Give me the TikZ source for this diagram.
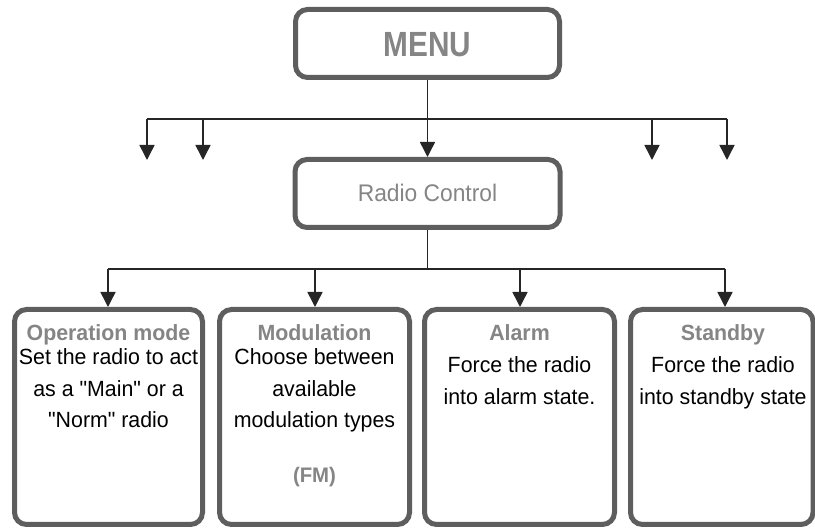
\documentclass[tikz,border=0pt]{standalone}
\usepackage{fontspec}
\setmainfont{Liberation Sans}
% families declared with \newfontfamily keep straight quotes (no TeX mapping)
\newfontfamily\bodyfont[FakeStretch=0.97]{Liberation Sans}
\newfontfamily\radiofont[FakeStretch=0.95]{Liberation Sans}
\newfontfamily\menufont[FakeStretch=0.85]{Liberation Sans}
\usetikzlibrary{arrows.meta}
\definecolor{boxline}{HTML}{5E5E5E}
\definecolor{titlegray}{HTML}{858585}
\definecolor{wire}{HTML}{262626}

\begin{document}
\begin{tikzpicture}[x=1pt,y=-1pt,
  panel/.style={draw=boxline, line width=5pt, rounded corners=12pt, inner sep=0pt, fill=white},
  wireline/.style={draw=wire, line width=1.5pt},
  wirearrow/.style={wireline, -{Triangle[width=15pt,length=15pt]}},
  title/.style={anchor=base, inner sep=0pt, text=titlegray, font=\bodyfont\fontsize{22}{25}\selectfont\bfseries},
  body/.style={anchor=base, inner sep=0pt, text=black, font=\bodyfont\fontsize{22}{25}\selectfont},
]
\useasboundingbox (0,0) rectangle (815,529);

% top level
\node[panel, minimum width=264pt, minimum height=68pt] (menu) at (427.5,43.5) {};
\node[anchor=base, inner sep=0pt, text=titlegray, font=\menufont\fontsize{35}{40}\selectfont\bfseries] (menutxt) at (427.5,57) {MENU};

\node[panel, minimum width=265pt, minimum height=68pt] (radio) at (427.5,193.5) {};
\node[anchor=base, inner sep=0pt, text=titlegray, font=\radiofont\fontsize{24}{27}\selectfont] (radiotxt) at (427.5,202) {Radio Control};

% bottom row panels
\node[panel, minimum width=188pt, minimum height=215pt] (opmode) at (108.5,417) {};
\node[panel, minimum width=190pt, minimum height=215pt] (modul) at (314.5,417) {};
\node[panel, minimum width=190pt, minimum height=215pt] (alarm) at (519.5,417) {};
\node[panel, minimum width=182.5pt, minimum height=215pt] (standby) at (721.75,417) {};

% texts of the panels
\node[title] (opT) at (108.5,341) {Operation mode};
\node[body] (opA) at (108.5,365) {Set the radio to act};
\node[body] (opB) at (108.5,397) {as a "Main" or a};
\node[body] (opC) at (108.5,428) {"Norm" radio};

\node[title] (moT) at (314.5,341) {Modulation};
\node[body] (moA) at (314.5,365) {Choose between};
\node[body] (moB) at (314.5,397) {available};
\node[body] (moC) at (314.5,428) {modulation types};
\node[title, font=\bodyfont\fontsize{21}{24}\selectfont\bfseries] (moD) at (314.5,483) {(FM)};

\node[title] (alT) at (519.5,341) {Alarm};
\node[body] (alA) at (519.5,373) {Force the radio};
\node[body] (alB) at (519.5,405) {into alarm state.};

\node[title] (stT) at (723,341) {Standby};
\node[body] (stA) at (723,373) {Force the radio};
\node[body] (stB) at (723,405) {into standby state};

% connectors from MENU
\coordinate (hubTop) at (427.5,119);
\coordinate (tL1) at (147,119);
\coordinate (tL2) at (203,119);
\coordinate (tR1) at (652,119);
\coordinate (tR2) at (727,119);
\coordinate (eL1) at (147,160);
\coordinate (eL2) at (203,160);
\coordinate (eR1) at (652,160);
\coordinate (eR2) at (727,160);
\draw[wireline] (menu.south) -- (hubTop);
\draw[wireline] (tL1) -- (tR2);
\draw[wirearrow] (tL1) -- (eL1);
\draw[wirearrow] (tL2) -- (eL2);
\draw[wirearrow] (tR1) -- (eR1);
\draw[wirearrow] (tR2) -- (eR2);
\draw[wirearrow] (hubTop) -- (radio.north);

% connectors from Radio Control
\coordinate (hubBot) at (427.5,269);
\coordinate (bL) at (108,269);
\coordinate (bM) at (315,269);
\coordinate (bA) at (520,269);
\coordinate (bR) at (725,269);
\draw[wireline] (radio.south) -- (hubBot);
\draw[wireline] (bL) -- (bR);
\draw[wirearrow] (bL) -- (bL |- opmode.north);
\draw[wirearrow] (bM) -- (bM |- modul.north);
\draw[wirearrow] (bA) -- (bA |- alarm.north);
\draw[wirearrow] (bR) -- (bR |- standby.north);
\end{tikzpicture}
\end{document}
